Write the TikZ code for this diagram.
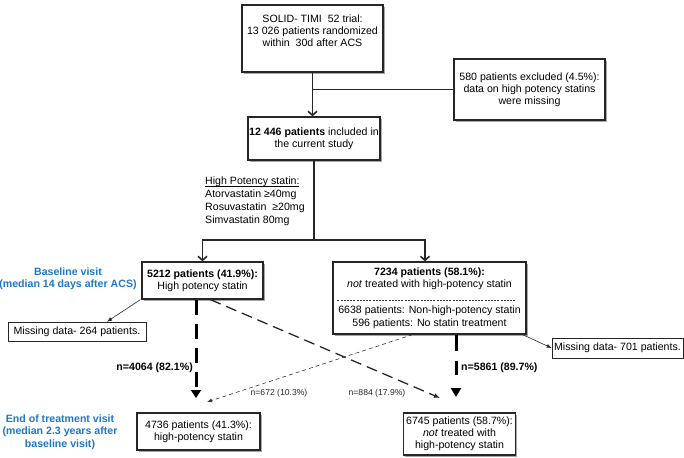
\documentclass[tikz,border=0pt]{standalone}
\usepackage{fontspec}
\setmainfont{Liberation Sans}
\usetikzlibrary{arrows.meta,shadows,calc}
\definecolor{visitblue}{RGB}{30,120,200}
\newcommand\hpul[1]{\setbox0\hbox{#1}\rlap{\rule[-1.8pt]{\wd0}{0.5pt}}\box0}
\begin{document}
\begin{tikzpicture}[x=1pt,y=-1pt,
  every node/.style={font=\fontsize{10.6}{12.2}\selectfont, inner sep=0pt},
  bigbox/.style={draw=black!85, line width=1.3pt, fill=white, align=center,
    drop shadow={shadow xshift=1.6pt, shadow yshift=-1.6pt, opacity=0.35, fill=black}},
  thinbox/.style={draw=black!85, line width=0.7pt, fill=white, align=center},
  mainline/.style={line width=1.4pt, draw=black!85},
  barb/.style={-{Straight Barb[length=4pt,width=9pt,line width=1.6pt]}},
  thinline/.style={line width=0.6pt, draw=black!85},
  thinarrow/.style={thinline, -{Latex[length=5pt,width=4pt]}},
  thickdash/.style={line width=3pt, draw=black, dash pattern=on 15pt off 9pt, -{Triangle[length=8pt,width=10pt]}},
  thickright/.style={line width=3pt, draw=black, dash pattern=on 16pt off 10pt on 14pt off 20pt, -{Triangle[length=9pt,width=10pt]}},
  meddash/.style={line width=1.3pt, draw=black!85, dash pattern=on 11pt off 6pt, -{Latex[length=6pt,width=5pt]}},
  finedash/.style={line width=0.6pt, draw=black!80, dash pattern=on 4pt off 3pt, -{Latex[length=5pt,width=4pt]}},
  sepdash/.style={line width=0.5pt, draw=black!80, dash pattern=on 2pt off 1.2pt},
  boldlabel/.style={font=\fontsize{10.6}{12.2}\selectfont\bfseries},
  smalllabel/.style={font=\fontsize{8.6}{10}\selectfont, text=black!85},
  visitlabel/.style={font=\fontsize{10.6}{12.5}\selectfont\bfseries, text=visitblue, align=center}
]
\useasboundingbox (0,0) rectangle (684,457);

% boxes
\node[bigbox, minimum width=141pt, minimum height=67pt] (trial) at (312.5,38.5)
  {SOLID- TIMI\ \ 52 trial:\\13 026 patients randomized\\within\ \ 30d after ACS\\[3pt]};
\node[bigbox, minimum width=151pt, minimum height=61pt] (excl) at (529.5,89.5)
  {580 patients excluded (4.5\%):\\data on high potency statins\\were missing};
\node[bigbox, minimum width=132pt, minimum height=43pt] (incl) at (314,138.5)
  {\textbf{12 446 patients} included in\\the current study};
\node[anchor=north west, align=left, font=\fontsize{10.6}{13}\selectfont] (hp) at (205,177)
  {\hpul{High Potency statin:}\\ Atorvastatin ≥40mg\\ Rosuvastatin\ \ ≥20mg\\ Simvastatin 80mg};
\node[bigbox, minimum width=121pt, minimum height=37pt] (b1) at (202.5,280.5)
  {\textbf{5212 patients (41.9\%):}\\High potency statin};
\node[bigbox, minimum width=193pt, minimum height=72pt] (b2) at (429.5,298)
  {\textbf{7234 patients (58.1\%):}\\\textit{not} treated with high-potency statin\\[14pt]6638 patients: Non-high-potency statin\\596 patients: No statin treatment};
\node[thinbox, minimum width=138pt, minimum height=19pt] (miss1) at (77,331.5)
  {Missing data- 264 patients.};
\node[thinbox, minimum width=131pt, minimum height=20pt] (miss2) at (617.5,348)
  {Missing data- 701 patients.};
\node[bigbox, minimum width=123pt, minimum height=37pt] (e1) at (198.5,431.5)
  {4736 patients (41.3\%):\\high-potency statin};
\node[bigbox, minimum width=112pt, minimum height=42pt] (e2) at (459.5,434)
  {6745 patients (58.7\%):\\\textit{not} treated with\\high-potency statin};

% side labels
\node[visitlabel] (base) at (68,279) {Baseline visit\\(median 14 days after ACS)};
\node[visitlabel] (endv) at (60,432) {End of treatment visit\\(median 2.3 years after\\baseline visit)};

% separator inside b2
\draw[sepdash] ($(b2.west)+(5,2)$) -- ($(b2.east)+(-12,2)$);

% coordinates
\coordinate (splitR) at (425,240);
\coordinate (t1) at (196,398);
\coordinate (t2) at (207,402);
\coordinate (t3) at (440,398);
\coordinate (t4) at (456,397);

% connectors
\draw[mainline, barb] (trial.south) -- (trial.south |- incl.north);
\draw[thinline] (trial.south |- excl.west) -- (excl.west);
\draw[mainline] (incl.south) -- (incl.south |- splitR);
\draw[mainline, {Straight Barb[length=4pt,width=9pt,line width=1.6pt]}-{Straight Barb[length=4pt,width=9pt,line width=1.6pt]}]
  (b1.north) |- (splitR) -- (splitR |- b2.north);
\draw[thinarrow] ([xshift=-1pt]b1.south west) -- ([xshift=30pt]miss1.north);
\draw[thinarrow] ([xshift=-4pt]b2.south east) -- (miss2.west);
\draw[thickdash] (b1.south -| t1) -- (t1);
\draw[meddash] ([xshift=8pt]b1.south) -- (t3);
\draw[finedash] ([xshift=-17pt]b2.south) -- (t2);
\draw[thickright] (b2.south -| t4) -- (t4);

% flow labels
\node[boldlabel, anchor=east] (n1) at (193,368) {n=4064 (82.1\%)};
\node[boldlabel, anchor=west] (n2) at (461,368) {n=5861 (89.7\%)};
\node[smalllabel] (n3) at (279,393) {n=672 (10.3\%)};
\node[smalllabel] (n4) at (377,393) {n=884 (17.9\%)};
\end{tikzpicture}
\end{document}
